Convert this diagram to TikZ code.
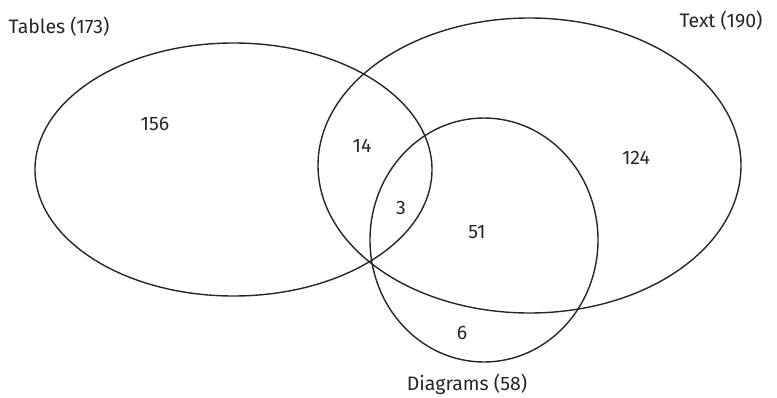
\documentclass[tikz,border=0pt]{standalone}
\usepackage{fontspec}
\setmainfont{Fira Sans}
\begin{document}
\begin{tikzpicture}[x=1pt,y=-1pt,
  setline/.style={draw=black!85,line width=1.4pt},
  lab/.style={font=\fontsize{19.5}{23}\selectfont,text=black!85,inner sep=0pt}]
\useasboundingbox (0,0) rectangle (777,397);
\draw[setline] (233.5,169.5) ellipse [x radius=198.5, y radius=126.5];
\draw[setline] (529.5,165.5) ellipse [x radius=211.5, y radius=147.5];
\draw[setline] (484,240) ellipse [x radius=114, y radius=122];
\node[lab] (tables) at (59,27) {Tables (173)};
\node[lab] (text) at (721,21) {Text (190)};
\node[lab] (diagrams) at (467,384) {Diagrams (58)};
\node[lab] (n156) at (155,124) {156};
\node[lab] (n14) at (362,146) {14};
\node[lab] (n3) at (401,208) {3};
\node[lab] (n51) at (477,232) {51};
\node[lab] (n124) at (636,158) {124};
\node[lab] (n6) at (462,333) {6};
\end{tikzpicture}
\end{document}
